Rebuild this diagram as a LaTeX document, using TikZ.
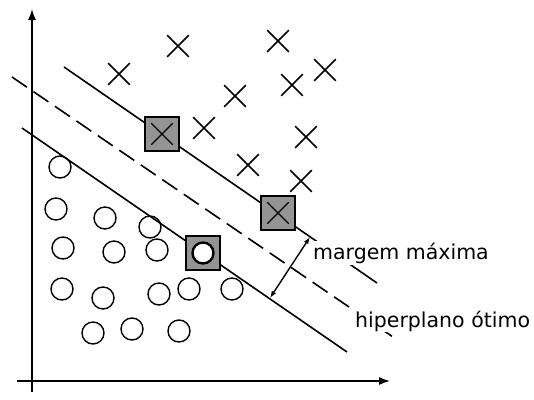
\documentclass[tikz,border=0pt]{standalone}
\usepackage{fontspec}
\setmainfont{DejaVu Sans}
\usetikzlibrary{arrows.meta,shapes.misc}

\begin{document}
\begin{tikzpicture}[
    x=1pt, y=-1pt,
    xmark/.style={cross out, draw, minimum size=20pt, inner sep=0pt, line width=1.6pt},
    omark/.style={circle, draw, minimum size=22pt, inner sep=0pt, line width=1.4pt},
    svbox/.style={rectangle, draw, fill=black!42, minimum size=34pt, inner sep=0pt, line width=1.8pt},
    margin/.style={line width=1.6pt},
    axisstyle/.style={line width=1.5pt, -{Latex[length=11pt,width=8pt]}},
    labelstyle/.style={fill=white, inner sep=2pt, font=\fontsize{20.5}{24}\selectfont}
]
    \useasboundingbox (0,0) rectangle (534,399);

    % axes
    \coordinate (o1) at (32,392);
    \coordinate (y1) at (32,9);
    \coordinate (o2) at (17,381);
    \coordinate (x1) at (390,381);
    \draw[axisstyle] (o1) -- (y1);
    \draw[axisstyle] (o2) -- (x1);

    % margin lines and separating hyperplane
    \coordinate (up1) at (64,67);
    \coordinate (up2) at (377,283);
    \coordinate (hp1) at (12,77);
    \coordinate (hp2) at (393,337);
    \coordinate (lo1) at (22,128);
    \coordinate (lo2) at (347,352);
    \draw[margin] (up1) -- (up2);
    \draw[margin, dash pattern=on 18pt off 8pt] (hp1) -- (hp2);
    \draw[margin] (lo1) -- (lo2);

    % labels
    \node[labelstyle, anchor=base west] (lblmargem) at (311,259) {margem máxima};
    \node[labelstyle, anchor=base west, inner ysep=1pt] (lblhiper) at (353,327) {hiperplano ótimo};

    % width of the margin
    \coordinate (mtop) at (310,237);
    \coordinate (mbot) at (270,298);
    \draw[line width=1.4pt, {Latex[length=7pt,width=5pt]}-{Latex[length=7pt,width=5pt]}] (mbot) -- (mtop);

    % class +1
    \foreach \p [count=\i] in {(178,46),(119,74),(235,96),(204,128),(248,165),
                               (278,41),(325,70),(292,85),(306,137),(301,181)}
        \node[xmark] (x\i) at \p {};

    % class -1
    \foreach \p [count=\i] in {(60,167),(56,209),(105,218),(150,227),(63,248),
                               (114,252),(157,250),(62,289),(103,298),(159,294),
                               (189,289),(232,289),(93,333),(132,329),(179,331)}
        \node[omark] (o\i) at \p {};

    % support vectors
    \node[svbox] (sv1) at (162,134) {};
    \node[xmark, line width=1.3pt] (sv1x) at (sv1) {};
    \node[svbox] (sv2) at (278,213) {};
    \node[xmark, line width=1.3pt] (sv2x) at (sv2) {};
    \node[svbox] (sv3) at (203,253) {};
    \node[omark, fill=white, line width=2.4pt, minimum size=21pt] (sv3o) at (sv3) {};
\end{tikzpicture}
\end{document}
